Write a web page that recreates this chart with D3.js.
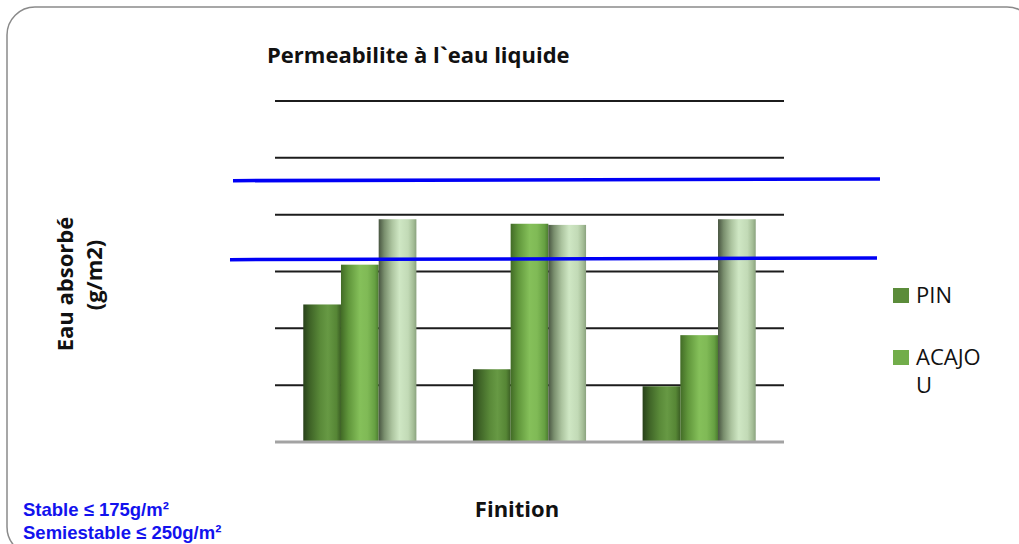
<!DOCTYPE html>
<html>
<head>
<meta charset="utf-8">
<script src="https://cdn.jsdelivr.net/npm/d3@7/dist/d3.min.js"></script>
<style>
  html, body { margin: 0; padding: 0; background: #fff; }
  svg { display: block; }
</style>
</head>
<body>
<svg id="chart" width="1019" height="544"></svg>
<script>
// ---- data ----
const categories = ["F1", "F2", "F3"];
const seriesNames = ["PIN", "ACAJOU", "Série 3"];
const pinValues = [121, 64, 49];
const acajouValues = [156, 192, 94];
const serie3Values = [196, 191, 196];
const yTicks = [0, 50, 100, 150, 200, 250, 300];
const legendNames = ["PIN", "ACAJOU"];
// threshold guide lines (value at left end, value at right end)
const stableLine = [160.4, 161.9];
const semiLine = [229.9, 231.4];
const noteLines = ["Stable ≤ 175g/m²", "Semiestable ≤ 250g/m²"];

const seriesValues = [pinValues, acajouValues, serie3Values];

const svg = d3.select("#chart");
const plot = { left: 275, right: 784, top: 101, bottom: 442 };

// frame with rounded corners
svg.append("rect")
  .attr("x", 7).attr("y", 7)
  .attr("width", 1028).attr("height", 548)
  .attr("rx", 28).attr("ry", 28)
  .attr("fill", "none")
  .attr("stroke", "#8a8a8a")
  .attr("stroke-width", 1.5);

// scales
const y = d3.scaleLinear().domain([0, 300]).range([plot.bottom, plot.top]);
const x0 = d3.scaleBand().domain(categories).range([plot.left, plot.right]).padding(0);
const x1 = d3.scaleBand().domain(seriesNames).range([0, x0.bandwidth()])
  .paddingInner(0).paddingOuter(0.75);

// gradients for the cylinder-like bars
const defs = svg.append("defs");
const gradStops = [
  [ [0, "#28411a"], [0.18, "#3f6427"], [0.45, "#5a8a39"], [0.65, "#679944"], [0.88, "#568635"], [1, "#3b5e24"] ],
  [ [0, "#426b26"], [0.2, "#60963b"], [0.5, "#85c05a"], [0.7, "#80ba56"], [0.9, "#66a042"], [1, "#4c7c2f"] ],
  [ [0, "#485541"], [0.15, "#7a8f6e"], [0.35, "#abc39e"], [0.55, "#cfe7c4"], [0.78, "#c2dab6"], [0.92, "#a4bd96"], [1, "#8aa27e"] ]
];
gradStops.forEach((stops, i) => {
  const g = defs.append("linearGradient")
    .attr("id", "barGrad" + i)
    .attr("x1", "0%").attr("x2", "100%").attr("y1", "0%").attr("y2", "0%");
  stops.forEach(([o, c]) => g.append("stop").attr("offset", o).attr("stop-color", c));
});

// gridlines
svg.append("g")
  .selectAll("line")
  .data(yTicks.filter(t => t > 0))
  .join("line")
  .attr("x1", plot.left).attr("x2", plot.right)
  .attr("y1", d => y(d)).attr("y2", d => y(d))
  .attr("stroke", "#1c1c1c")
  .attr("stroke-width", 2);

// bars
const groups = svg.append("g")
  .selectAll("g")
  .data(categories)
  .join("g")
  .attr("transform", d => `translate(${x0(d)},0)`);

groups.selectAll("rect")
  .data((c, ci) => seriesNames.map((s, si) => ({ s, si, v: seriesValues[si][ci] })))
  .join("rect")
  .attr("x", d => x1(d.s))
  .attr("width", x1.bandwidth())
  .attr("y", d => y(d.v))
  .attr("height", d => y(0) - y(d.v))
  .attr("fill", d => `url(#barGrad${d.si})`);

// baseline
svg.append("line")
  .attr("x1", plot.left).attr("x2", plot.right)
  .attr("y1", y(0)).attr("y2", y(0))
  .attr("stroke", "#a3a3a3")
  .attr("stroke-width", 3);

// threshold guide lines
const guides = [
  { vals: stableLine, x1: 230, x2: 877 },
  { vals: semiLine, x1: 233, x2: 880 }
];
svg.append("g")
  .selectAll("line")
  .data(guides)
  .join("line")
  .attr("x1", d => d.x1).attr("x2", d => d.x2)
  .attr("y1", d => y(d.vals[0])).attr("y2", d => y(d.vals[1]))
  .attr("stroke", "#0000f5")
  .attr("stroke-width", 3.5);

// title
svg.append("text")
  .attr("x", 267).attr("y", 63)
  .attr("font-family", "'Open Sans', sans-serif")
  .attr("font-weight", 700)
  .attr("font-size", 22)
  .attr("fill", "#111")
  .text("Permeabilite à l`eau liquide");

// y axis title (two lines)
const yTitle = svg.append("g").attr("font-family", "'Open Sans', sans-serif")
  .attr("font-weight", 700).attr("font-size", 22).attr("fill", "#111");
yTitle.append("text")
  .attr("transform", "translate(73,284) rotate(-90)")
  .attr("text-anchor", "middle")
  .text("Eau absorbé");
yTitle.append("text")
  .attr("transform", "translate(102,275) rotate(-90)")
  .attr("text-anchor", "middle")
  .text("(g/m2)");

// x axis title
svg.append("text")
  .attr("x", 517).attr("y", 517)
  .attr("text-anchor", "middle")
  .attr("font-family", "'Open Sans', sans-serif")
  .attr("font-weight", 700)
  .attr("font-size", 22)
  .attr("fill", "#111")
  .text("Finition");

// legend
const legendColors = ["#5b8c3a", "#72ad4a"];
const legend = svg.append("g")
  .attr("font-family", "'Open Sans', sans-serif")
  .attr("font-size", 22)
  .attr("fill", "#111");
const legendRows = [303, 365];
legendNames.forEach((name, i) => {
  legend.append("rect")
    .attr("x", 893).attr("y", legendRows[i] - 15)
    .attr("width", 16).attr("height", 15)
    .attr("fill", legendColors[i]);
  const t = legend.append("text").attr("x", 916).attr("y", legendRows[i]);
  if (name.length > 5) {
    t.append("tspan").attr("x", 916).text(name.slice(0, 5));
    t.append("tspan").attr("x", 916).attr("dy", 28).text(name.slice(5));
  } else {
    t.text(name);
  }
});

// notes
const notes = svg.append("g")
  .attr("font-family", "'Liberation Sans', Arial, sans-serif")
  .attr("font-weight", 700)
  .attr("font-size", 18.5)
  .attr("fill", "#1212ee");
noteLines.forEach((s, i) => {
  notes.append("text").attr("x", 23).attr("y", 516 + i * 22.5).text(s);
});
</script>
</body>
</html>
